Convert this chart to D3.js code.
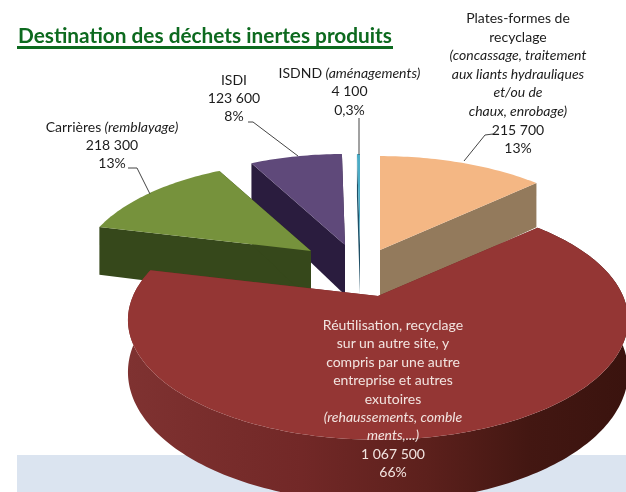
<!DOCTYPE html>
<html>
<head>
<meta charset="utf-8">
<title>Destination des déchets inertes produits</title>
<script src="https://cdn.jsdelivr.net/npm/d3@7"></script>
<style>
  html, body { margin: 0; padding: 0; background: #fff; overflow: hidden; }
  svg { display: block; filter: blur(0.35px); }
  text { font-family: Lato, "Open Sans", sans-serif; }
</style>
</head>
<body>
<div id="graph"></div>
<script>
  // values, clockwise from 12 o'clock
  const categories = ["Plates-formes", "Réutilisation", "Carrières", "ISDI", "ISDND"];
  const values = [215700, 1067500, 218300, 123600, 4100];

  const plateLines = ["Plates-formes de", "recyclage", "*(concassage, traitement", "*aux liants hydrauliques", "*et/ou de", "*chaux, enrobage)", "215 700", "13%"];
  const reuseLines = ["Réutilisation, recyclage", "sur un autre site, y", "compris par une autre", "entreprise et autres", "exutoires", "*(rehaussements,  comble", "*ments,...)", "1 067 500", "66%"];
  const quarryLines = ["Carrières", "218 300", "13%"];
  const isdiLines = ["ISDI", "123 600", "8%"];
  const isdndLines = ["ISDND", "4 100", "0,3%"];

  const width = 626, height = 492;
  const svg = d3.select("#graph").append("svg").attr("width", width).attr("height", height);

  // pie layout + fake 3d projection (tilted disc with a bit of perspective)
  const R = 245, T = 115, K = 0.2, depth = 50;
  const slices = d3.pie().sort(null)(values);

  // per slice: explosion apex, size factor, colours
  const look = [
    {ax: 380, ay: 250, f: 0.98, top: "#f4b784", cut: "#937a5c", wall: "#937a5c"},
    {ax: 378, ay: 296, f: 1, top: "#943634", cut: "#6e2624", wall: "url(#redWall)"},
    {ax: 311, ay: 251, f: 0.93, top: "#76923c", cut: "#36481b", wall: "#36481b"},
    {ax: 345, ay: 245, f: 0.95, top: "#5f497a", cut: "#2a1c3e", wall: "#2a1c3e"},
    {ax: 360, ay: 245, f: 0.95, top: "#4bacc6", cut: "#1f4f66", wall: "#1f4f66"}
  ];

  function proj(l, a, r, z) {
    const u = Math.sin(a) * r, v = Math.cos(a) * r;
    const s = 1 / (1 + K * v);
    return [l.ax + R * l.f * u * s, l.ay - T * l.f * v * s + z * s];
  }

  const line = d3.line();
  const arcAngles = (d) => {
    const n = Math.max(2, Math.ceil((d.endAngle - d.startAngle) / 0.02));
    return d3.range(n + 1).map(i => d.startAngle + (d.endAngle - d.startAngle) * i / n);
  };

  const defs = svg.append("defs");
  const grad = defs.append("linearGradient").attr("id", "redWall")
    .attr("gradientUnits", "userSpaceOnUse").attr("x1", 126).attr("x2", 628).attr("y1", 0).attr("y2", 0);
  grad.selectAll("stop")
    .data([[0, "#7f3231"], [0.35, "#722827"], [0.6, "#5c201c"], [0.8, "#431712"], [1, "#3a130e"]])
    .join("stop").attr("offset", d => d[0]).attr("stop-color", d => d[1]);

  // pale band at the foot of the slide
  svg.append("rect").attr("x", 17).attr("y", 455).attr("width", width - 17).attr("height", height - 455).attr("fill", "#dbe4f0");

  // title
  svg.append("text").attr("x", 18).attr("y", 43).attr("font-size", 20.5).attr("font-weight", 700)
    .attr("fill", "#0d6a1f").attr("textLength", 374).attr("lengthAdjust", "spacingAndGlyphs")
    .text("Destination des déchets inertes produits");
  svg.append("rect").attr("x", 17).attr("y", 46).attr("width", 376).attr("height", 3).attr("fill", "#0d6a1f");

  // back slices first, red one last because it sits on top of the others
  const order = [3, 4, 0, 2, 1];
  const pieG = svg.append("g");
  order.forEach(i => {
    const d = slices[i], l = look[i], g = pieG.append("g").attr("class", "slice");
    const angs = arcAngles(d);
    const apexT = [l.ax, l.ay], apexB = [l.ax, l.ay + depth];

    // radial cut faces
    [d.startAngle, d.endAngle].forEach(a => {
      g.append("path").attr("fill", l.cut)
        .attr("d", line([apexT, proj(l, a, 1, 0), proj(l, a, 1, depth), apexB]) + "Z");
    });
    // outer wall, only the part turned to the viewer matters
    const wall = angs.map(a => proj(l, a, 1, 0)).concat(angs.slice().reverse().map(a => proj(l, a, 1, depth)));
    if (i === 1) g.append("path").attr("fill", l.wall).attr("d", line(wall) + "Z");

    // top face
    g.append("path").attr("fill", l.top)
      .attr("d", line([apexT].concat(angs.map(a => proj(l, a, 1, 0)))) + "Z");
  });

  // labels, a leading * means italic
  function label(lines, cx, y0, step, color, size) {
    const t = svg.append("g").attr("fill", color).attr("font-size", size).attr("text-anchor", "middle");
    lines.forEach((s, i) => {
      const it = s[0] === "*";
      t.append("text").attr("x", cx).attr("y", y0 + i * step)
        .attr("font-style", it ? "italic" : "normal").text(it ? s.slice(1) : s);
    });
    return t;
  }
  label(plateLines, 518, 23, 18.6, "#1c1c1c", 14);
  label(reuseLines, 393, 330, 18.4, "#f2e4e0", 14);

  const q = label(quarryLines, 112, 132, 18, "#1c1c1c", 14);
  q.select("text").append("tspan").attr("font-style", "italic").text(" (remblayage)");
  label(isdiLines, 234, 85, 18, "#1c1c1c", 14);
  const n = label(isdndLines, 349.5, 78, 18.3, "#1c1c1c", 14);
  n.select("text").append("tspan").attr("font-style", "italic").text(" (aménagements)");

  // leader lines
  const leaders = [
    [[128, 168], [137, 168], [150, 194]],
    [[248, 122], [253, 122], [298, 156]],
    [[359, 118], [359, 155]],
    [[493, 134], [485, 135], [464, 161]]
  ];
  svg.append("g").attr("fill", "none").attr("stroke", "#444").attr("stroke-width", 1)
    .selectAll("path").data(leaders).join("path").attr("d", d => line(d));
</script>
</body>
</html>
